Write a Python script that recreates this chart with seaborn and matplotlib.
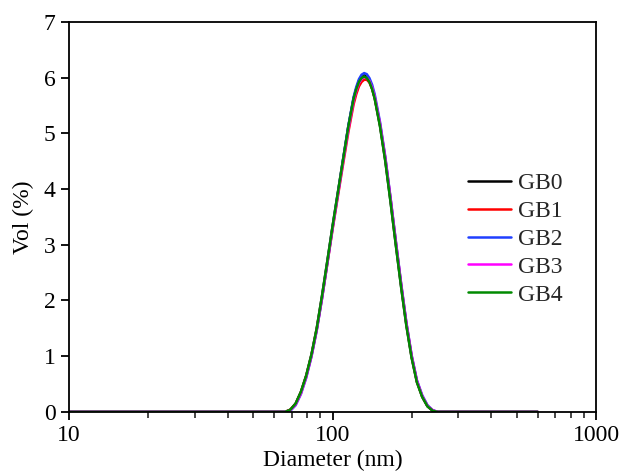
import matplotlib
matplotlib.use('Agg')
import matplotlib.pyplot as plt
import matplotlib.ticker as ticker
import seaborn as sns
import pandas as pd

# particle size distribution (DLS), volume %
diameter = [10.0, 63.10, 66.07, 69.18, 72.44, 75.86, 79.43, 83.18, 87.10, 91.20,
            95.50, 100.0, 104.7, 109.6, 114.8, 120.2, 123.0, 125.9, 128.8, 131.8,
            134.9, 138.0, 141.3, 144.5, 151.4, 158.5, 166.0, 173.8, 182.0, 190.5,
            199.5, 208.9, 218.8, 229.1, 239.9, 251.2, 263.0, 600.0]

gb0 = [0, 0, 0, 0.04, 0.15, 0.36, 0.65, 1.03, 1.50, 2.08, 2.70, 3.33, 3.93, 4.53,
       5.13, 5.63, 5.80, 5.94, 6.00, 6.04, 6.01, 5.94, 5.80, 5.63, 5.13, 4.51,
       3.77, 3.00, 2.25, 1.56, 0.98, 0.54, 0.27, 0.10, 0.02, 0, 0, 0]
gb1 = [0, 0, 0, 0.04, 0.14, 0.35, 0.64, 1.01, 1.48, 2.04, 2.65, 3.27, 3.86, 4.44,
       5.02, 5.52, 5.70, 5.84, 5.92, 5.96, 5.96, 5.91, 5.80, 5.64, 5.16, 4.55,
       3.82, 3.05, 2.29, 1.59, 1.00, 0.55, 0.28, 0.11, 0.02, 0, 0, 0]
gb2 = [0, 0, 0, 0.02, 0.12, 0.32, 0.61, 0.99, 1.46, 2.03, 2.66, 3.30, 3.91, 4.52,
       5.13, 5.65, 5.83, 5.97, 6.05, 6.08, 6.06, 5.99, 5.87, 5.70, 5.20, 4.58,
       3.84, 3.07, 2.31, 1.61, 1.02, 0.57, 0.30, 0.12, 0.03, 0, 0, 0]
gb3 = [0, 0, 0, 0.03, 0.13, 0.33, 0.62, 1.00, 1.47, 2.04, 2.67, 3.29, 3.89, 4.48,
       5.07, 5.58, 5.76, 5.90, 5.97, 6.01, 5.99, 5.94, 5.82, 5.66, 5.17, 4.56,
       3.82, 3.05, 2.29, 1.60, 1.01, 0.56, 0.29, 0.11, 0.03, 0, 0, 0]
gb4 = [0, 0, 0, 0.04, 0.15, 0.36, 0.65, 1.03, 1.50, 2.08, 2.70, 3.33, 3.93, 4.52,
       5.12, 5.62, 5.79, 5.92, 5.99, 6.02, 5.99, 5.92, 5.79, 5.62, 5.12, 4.50,
       3.76, 2.99, 2.24, 1.55, 0.97, 0.53, 0.27, 0.10, 0.02, 0, 0, 0]

samples = ['GB0', 'GB1', 'GB2', 'GB3', 'GB4']
colors = ['#000000', '#ff0000', '#1f3fff', '#ff00ff', '#008a00']

df = pd.concat([pd.DataFrame({'Diameter': diameter, 'Vol': v, 'Sample': s})
                for s, v in zip(samples, [gb0, gb1, gb2, gb3, gb4])])

sns.set_theme(style='ticks')
plt.rcParams['font.family'] = ['Liberation Serif', 'DejaVu Serif']
plt.rcParams['axes.linewidth'] = 1.3

fig = plt.figure(figsize=(6.21, 4.74), dpi=100)
ax = fig.add_axes([0.111, 0.131, 0.849, 0.823])

sns.lineplot(data=df, x='Diameter', y='Vol', hue='Sample', palette=colors,
             linewidth=1.8, errorbar=None, ax=ax)

ax.set_xscale('log')
ax.set_xlim(10, 1000)
ax.set_ylim(0, 7)
ax.xaxis.set_major_locator(ticker.FixedLocator([10, 100, 1000]))
ax.xaxis.set_major_formatter(ticker.FuncFormatter(lambda v, _: '{:g}'.format(v)))
ax.xaxis.set_minor_locator(ticker.LogLocator(base=10, subs=range(2, 10)))
ax.xaxis.set_minor_formatter(ticker.NullFormatter())
ax.yaxis.set_major_locator(ticker.MultipleLocator(1))

ax.tick_params(which='major', direction='out', length=6, width=1.3,
               labelsize=17, colors='black', top=False, right=False)
ax.tick_params(which='minor', direction='out', length=4, width=1.2,
               top=False, right=False)
for sp in ax.spines.values():
    sp.set_color('black')

ax.set_xlabel('Diameter (nm)', fontsize=17, color='black', labelpad=3)
ax.set_ylabel('Vol (%)', fontsize=17, color='black', labelpad=7)

leg = ax.get_legend()
handles = leg.legend_handles
labels = [t.get_text() for t in leg.get_texts()]
ax.legend(handles, labels, frameon=False, loc='center left',
          bbox_to_anchor=(0.757, 0.443), fontsize=17, handlelength=1.8,
          handletextpad=0.3, labelspacing=0.27, borderpad=0, borderaxespad=0)

plt.savefig('out.png', dpi=100)
